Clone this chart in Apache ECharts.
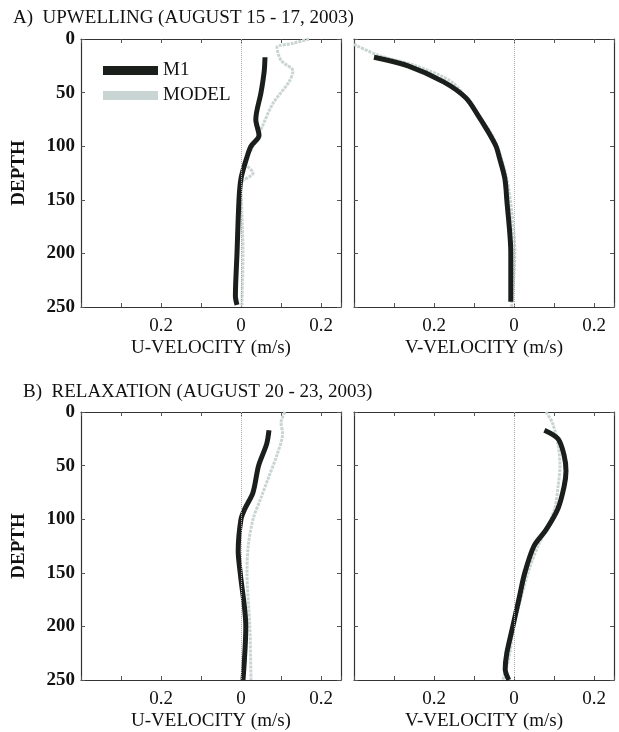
<!DOCTYPE html>
<html>
<head>
<meta charset="UTF-8">
<script src="https://cdn.jsdelivr.net/npm/echarts@6/dist/echarts.min.js"></script>
<style>
  body { margin: 0; background: #fff; }
  #chart { width: 619px; height: 732px; }
</style>
</head>
<body>
<div id="chart"></div>
<script>
// depth levels (m) and velocities (m/s)
const aUM1Depth = [17, 30, 50, 75, 90, 100, 110, 130, 150, 200, 240, 248];
const aUM1 = [0.06, 0.058, 0.05, 0.037, 0.045, 0.025, 0.015, 0.0, -0.005, -0.01, -0.014, -0.01];
const aUModDepth = [0, 4, 8, 20, 30, 40, 60, 80, 100, 115, 125, 135, 160, 200, 250];
const aUMod = [0.17, 0.13, 0.09, 0.1, 0.13, 0.12, 0.08, 0.055, 0.03, 0.01, 0.03, 0.0, 0.002, 0.005, 0.002];

const aVM1Depth = [17, 25, 40, 55, 70, 85, 100, 110, 130, 150, 200, 245];
const aVM1 = [-0.35, -0.265, -0.176, -0.12, -0.092, -0.067, -0.045, -0.037, -0.023, -0.018, -0.008, -0.008];
const aVModDepth = [5, 15, 25, 40, 60, 70, 85, 100, 130, 170, 200, 250];
const aVMod = [-0.4, -0.34, -0.245, -0.156, -0.11, -0.095, -0.062, -0.042, -0.018, -0.003, 0.002, -0.006];

const bUM1Depth = [17, 30, 50, 75, 90, 100, 130, 150, 200, 250];
const bUM1 = [0.07, 0.064, 0.044, 0.03, 0.01, 0.0, -0.007, -0.002, 0.012, 0.005];
const bUModDepth = [0, 10, 20, 40, 60, 80, 100, 125, 150, 200, 250];
const bUMod = [0.11, 0.1, 0.104, 0.09, 0.07, 0.05, 0.03, 0.018, 0.015, 0.022, 0.025];

const bVM1Depth = [17, 25, 40, 55, 70, 90, 110, 125, 150, 175, 200, 225, 240, 250];
const bVM1 = [0.076, 0.11, 0.125, 0.13, 0.125, 0.11, 0.08, 0.05, 0.027, 0.012, -0.003, -0.018, -0.022, -0.013];
const bVModDepth = [0, 10, 30, 50, 70, 90, 110, 125, 150, 200, 230, 250];
const bVMod = [0.08, 0.096, 0.11, 0.115, 0.11, 0.102, 0.08, 0.06, 0.035, 0.0, -0.013, -0.028];

const xLabelTicks = [-0.2, 0, 0.2];

const pair = (xs, ds) => xs.map((v, i) => [v, ds[i]]);
const serif = 'Liberation Serif';

const grids = [
  { left: 81, top: 39, width: 260, height: 268 },
  { left: 354, top: 39, width: 260, height: 268 },
  { left: 81, top: 412, width: 260, height: 268 },
  { left: 354, top: 412, width: 260, height: 268 }
];
const names = ['U-VELOCITY (m/s)', 'V-VELOCITY (m/s)', 'U-VELOCITY (m/s)', 'V-VELOCITY (m/s)'];

const xAxis = [], yAxis = [];
grids.forEach((g, i) => {
  const common = { type: 'value', gridIndex: i, min: -0.4, max: 0.25, interval: 0.1, splitLine: { show: false },
    axisLine: { show: true, onZero: false, lineStyle: { color: '#333', width: 1.2 } },
    axisTick: { show: true, inside: true, length: 4, lineStyle: { color: '#555' } } };
  xAxis.push(Object.assign({}, common, {
    position: 'bottom', name: names[i], nameLocation: 'middle', nameGap: 32,
    nameTextStyle: { fontFamily: serif, fontSize: 19, color: '#111' },
    axisLabel: { fontFamily: serif, fontSize: 19, color: '#111', margin: 10,
      formatter: v => xLabelTicks.some(t => Math.abs(t - v) < 1e-6) ? Math.abs(v).toFixed(v === 0 ? 0 : 1) : '' }
  }));
  xAxis.push(Object.assign({}, common, { position: 'top', axisLabel: { show: false } }));
  const ycommon = { type: 'value', gridIndex: i, inverse: true, min: 0, max: 250, interval: 50, splitLine: { show: false },
    axisLine: { show: true, onZero: false, lineStyle: { color: '#333', width: 1.2 } },
    axisTick: { show: true, inside: true, length: 4, lineStyle: { color: '#555' } } };
  const left = i % 2 === 0;
  yAxis.push(Object.assign({}, ycommon, {
    position: 'left', name: left ? 'DEPTH' : '', nameLocation: 'middle', nameGap: 52,
    nameTextStyle: { fontFamily: serif, fontSize: 19, fontWeight: 'bold', color: '#111' },
    axisLabel: { show: left, fontFamily: serif, fontSize: 19, fontWeight: 'bold', color: '#111', margin: 6 }
  }));
  yAxis.push(Object.assign({}, ycommon, { position: 'right', axisLabel: { show: false } }));
});

const panels = [
  [pair(aUM1, aUM1Depth), pair(aUMod, aUModDepth)],
  [pair(aVM1, aVM1Depth), pair(aVMod, aVModDepth)],
  [pair(bUM1, bUM1Depth), pair(bUMod, bUModDepth)],
  [pair(bVM1, bVM1Depth), pair(bVMod, bVModDepth)]
];

const series = [];
panels.forEach((p, i) => {
  series.push({
    name: 'MODEL', type: 'line', xAxisIndex: 2 * i, yAxisIndex: 2 * i, data: p[1], symbol: 'none', smooth: 0.3,
    lineStyle: { color: '#c9d5d3', width: 3, type: [3, 1] }, itemStyle: { color: '#c9d5d3' }, z: 2,
    markLine: { silent: true, symbol: 'none', label: { show: false },
      lineStyle: { color: '#aaa', type: 'dotted', width: 1 }, data: [{ xAxis: 0 }] }
  });
  series.push({
    name: 'M1', type: 'line', xAxisIndex: 2 * i, yAxisIndex: 2 * i, data: p[0], symbol: 'none', smooth: 0.3,
    lineStyle: { color: '#1b1f1c', width: 5 }, itemStyle: { color: '#1b1f1c' }, z: 3
  });
});

const chart = echarts.init(document.getElementById('chart'));
chart.setOption({
  animation: false,
  backgroundColor: '#fff',
  grid: grids,
  xAxis: xAxis,
  yAxis: yAxis,
  series: series,
  title: [
    { text: 'A)  UPWELLING (AUGUST 15 - 17, 2003)', left: 8, top: 4, textStyle: { fontFamily: serif, fontSize: 19, fontWeight: 'normal', color: '#111' } },
    { text: 'B)  RELAXATION (AUGUST 20 - 23, 2003)', left: 18, top: 378, textStyle: { fontFamily: serif, fontSize: 19, fontWeight: 'normal', color: '#111' } }
  ],
  legend: {
    data: ['M1', 'MODEL'], orient: 'vertical', left: 98, top: 56, itemWidth: 55, itemHeight: 9, itemGap: 6,
    icon: 'rect', textStyle: { fontFamily: serif, fontSize: 19, color: '#111' }
  }
});
</script>
</body>
</html>
